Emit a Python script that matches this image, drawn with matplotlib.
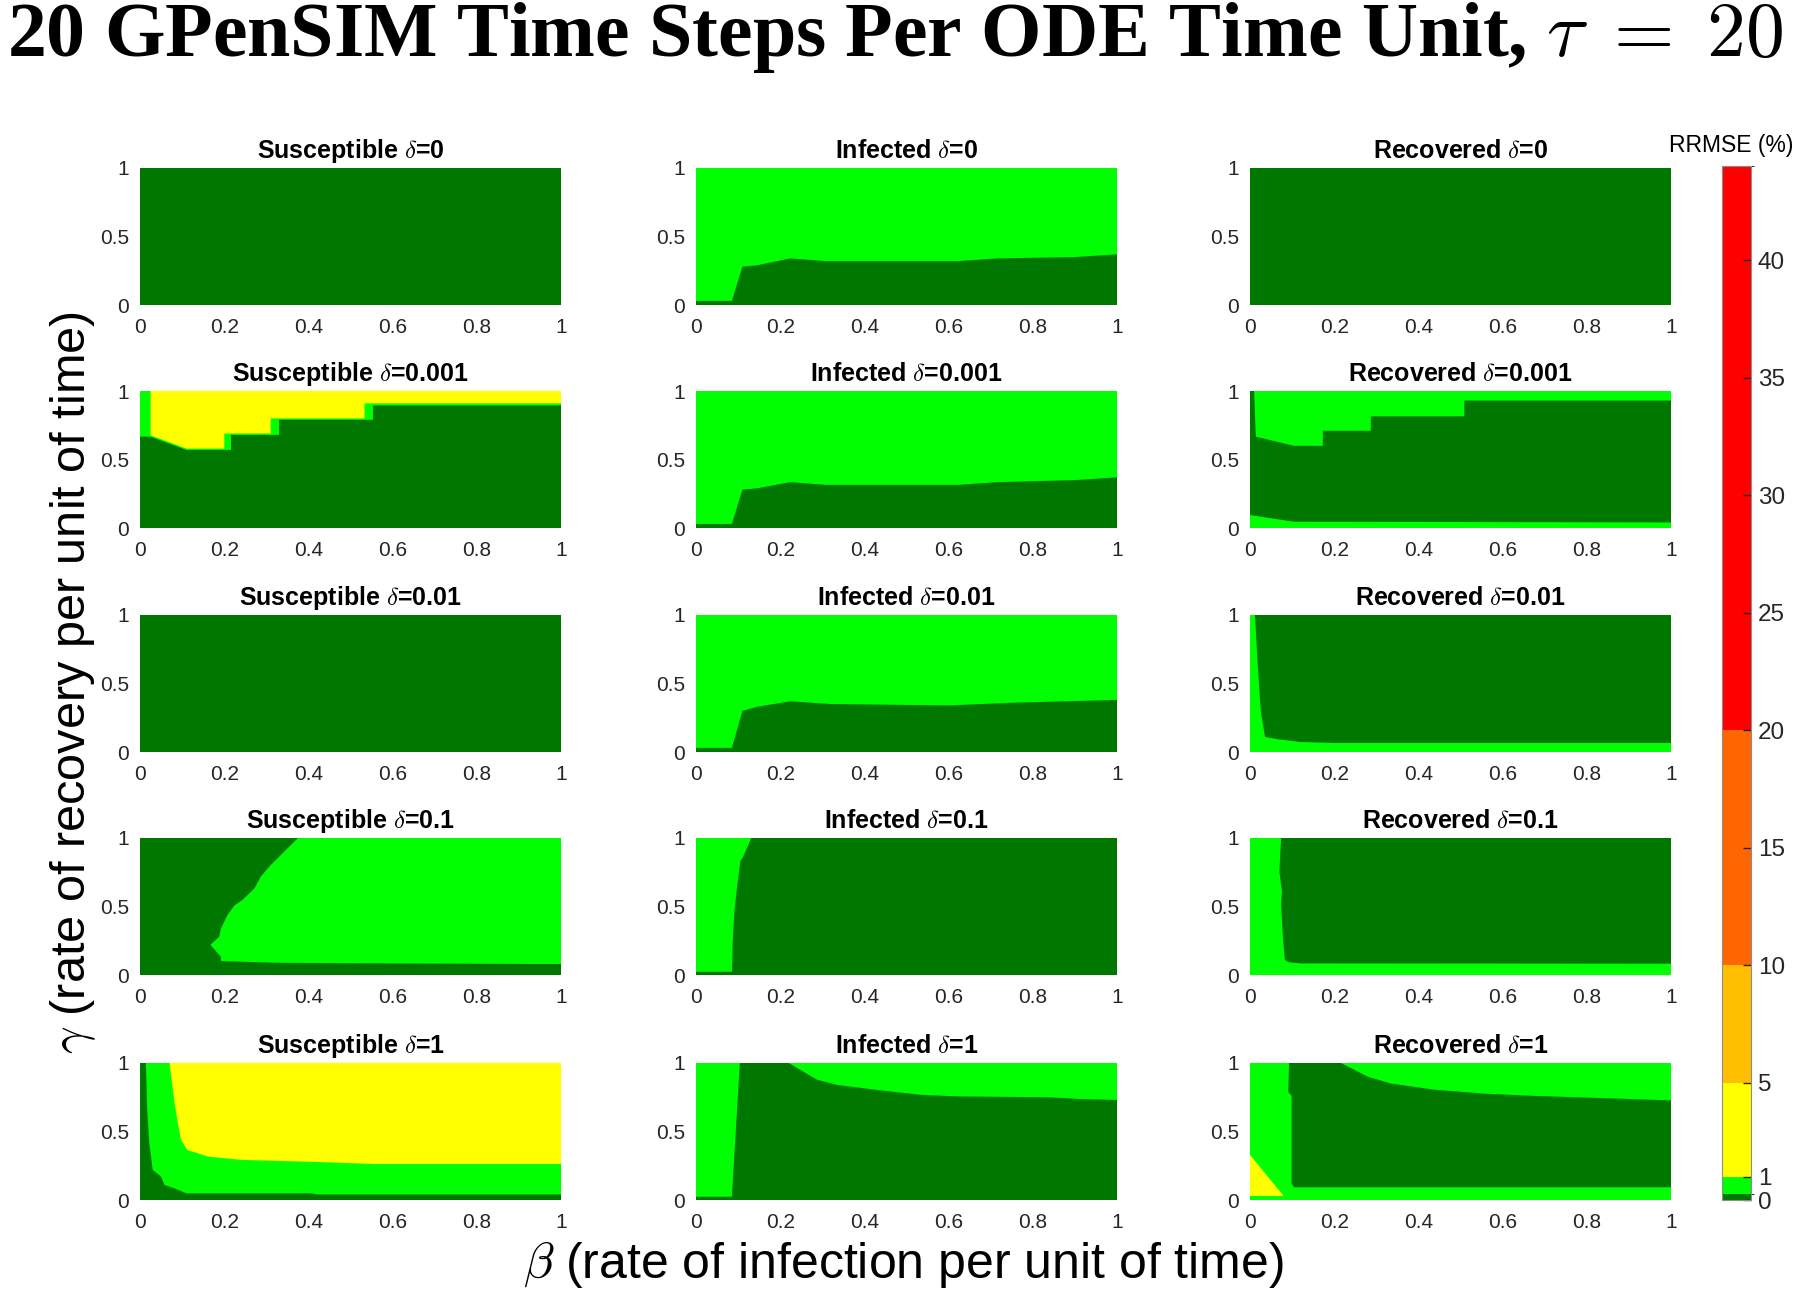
import matplotlib
matplotlib.use('Agg')
import matplotlib.pyplot as plt
from matplotlib.colors import ListedColormap, BoundaryNorm
from matplotlib.cm import ScalarMappable

plt.rcParams['font.family'] = ['Liberation Sans', 'DejaVu Sans']
plt.rcParams['mathtext.fontset'] = 'cm'

# ---------------- colour scale (RRMSE %) ----------------
rrmse_levels = [0, 0.25, 1, 5, 10, 20, 44]
band_colors = ['#007800', '#00ff00', '#ffff00', '#ffbf00', '#ff6600', '#ff0000']
cbar_ticks = [0, 1, 5, 10, 15, 20, 25, 30, 35, 40]

# representative RRMSE values of the bands that appear in the panels
DARK, LIGHT, YELLOW = 0.1, 0.6, 3.0

compartments = ['Susceptible', 'Infected', 'Recovered']
deltas = ['0', '0.001', '0.01', '0.1', '1']

beta_range = [0, 1]
gamma_range = [0, 1]
beta_ticks = [0, 0.2, 0.4, 0.6, 0.8, 1]
beta_ticklabels = ['0', '0.2', '0.4', '0.6', '0.8', '1']
gamma_ticks = [0, 0.5, 1]
gamma_ticklabels = ['0', '0.5', '1']

# ---------------- region boundaries (beta, gamma) ----------------
# delta = 0
inf_d0_beta = [0, 0.085, 0.11, 0.145, 0.224, 0.31, 0.62, 0.715, 0.9, 1.0, 1.0, 0]
inf_d0_gamma = [0.03, 0.03, 0.28, 0.29, 0.34, 0.32, 0.32, 0.34, 0.35, 0.37, 0, 0]

# delta = 0.001
sus_d001_light_beta = [0, 0.025, 0.025, 0.11, 0.2, 0.2, 0.31, 0.31, 0.533, 0.533, 1, 1, 0]
sus_d001_light_gamma = [1, 1, 0.677, 0.58, 0.58, 0.69, 0.69, 0.80, 0.80, 0.91, 0.91, 0, 0]
sus_d001_dark_beta = [0, 0.025, 0.11, 0.216, 0.216, 0.33, 0.33, 0.553, 0.553, 1, 1, 0]
sus_d001_dark_gamma = [0.667, 0.667, 0.57, 0.57, 0.68, 0.68, 0.79, 0.79, 0.895, 0.895, 0, 0]
inf_d001_beta = [0, 0.085, 0.11, 0.145, 0.224, 0.31, 0.62, 0.715, 0.9, 1.0, 1.0, 0]
inf_d001_gamma = [0.03, 0.03, 0.28, 0.29, 0.335, 0.315, 0.315, 0.335, 0.35, 0.37, 0, 0]
rec_d001_beta = [0, 0.01, 0.014, 0.105, 0.173, 0.173, 0.287, 0.287, 0.509, 0.509, 1, 1, 0.105, 0]
rec_d001_gamma = [1, 1, 0.667, 0.6, 0.6, 0.71, 0.71, 0.815, 0.815, 0.93, 0.93, 0.041, 0.046, 0.095]

# delta = 0.01
inf_d01_beta = [0, 0.085, 0.11, 0.145, 0.224, 0.32, 0.6, 0.755, 1, 1, 0]
inf_d01_gamma = [0.03, 0.03, 0.30, 0.33, 0.37, 0.35, 0.34, 0.36, 0.38, 0, 0]
rec_d01_beta = [0.012, 1, 1, 0.2, 0.12, 0.066, 0.036, 0.026, 0.018]
rec_d01_gamma = [1, 1, 0.066, 0.066, 0.073, 0.093, 0.11, 0.29, 0.66]

# delta = 0.1
sus_d1_beta = [0.375, 1, 1, 0.588, 0.32, 0.192, 0.192, 0.167, 0.188, 0.192, 0.208,
               0.224, 0.244, 0.272, 0.287, 0.311, 0.331, 0.351]
sus_d1_gamma = [1, 1, 0.08, 0.085, 0.09, 0.102, 0.134, 0.22, 0.28, 0.34, 0.44,
                0.507, 0.55, 0.634, 0.72, 0.805, 0.866, 0.927]
inf_d1_beta = [0, 0.085, 0.086, 0.087, 0.091, 0.097, 0.105, 0.112, 0.121, 0.131, 0]
inf_d1_gamma = [0.024, 0.024, 0.1, 0.244, 0.46, 0.634, 0.83, 0.866, 0.927, 1, 1]
rec_d1_beta = [0.074, 1, 1, 0.121, 0.093, 0.083, 0.079, 0.074, 0.076, 0.07]
rec_d1_gamma = [1, 1, 0.083, 0.085, 0.093, 0.11, 0.244, 0.51, 0.61, 0.756]

# delta = 1
sus_1_light_beta = [0, 0.07, 0.074, 0.082, 0.09, 0.097, 0.112, 0.161, 0.24, 0.438, 0.557, 1, 1, 0]
sus_1_light_gamma = [1, 1, 0.9, 0.707, 0.56, 0.44, 0.366, 0.317, 0.293, 0.276, 0.263, 0.263, 0, 0]
sus_1_dark_beta = [0, 0.014, 0.017, 0.022, 0.03, 0.05, 0.058, 0.082, 0.11, 0.406, 0.42, 1, 1, 0]
sus_1_dark_gamma = [1, 1, 0.66, 0.415, 0.22, 0.17, 0.11, 0.085, 0.049, 0.049, 0.041, 0.041, 0, 0]
inf_1_beta = [0, 0.085, 0.104, 0.22, 0.287, 0.335, 0.438, 0.533, 0.62, 0.834, 0.913, 1, 1, 0]
inf_1_gamma = [0.024, 0.024, 1, 1, 0.878, 0.84, 0.8, 0.768, 0.756, 0.75, 0.737, 0.73, 0, 0]
rec_1_yellow_beta = [0, 0.08, 0]
rec_1_yellow_gamma = [0.33, 0.03, 0.03]
rec_1_dark_beta = [0.093, 0.216, 0.28, 0.335, 0.438, 0.557, 0.675, 0.834, 1, 1, 0.105, 0.099, 0.099, 0.091]
rec_1_dark_gamma = [1, 1, 0.9, 0.85, 0.805, 0.776, 0.76, 0.744, 0.727, 0.093, 0.093, 0.12, 0.76, 0.79]

# panel table: (background RRMSE band, [(band, beta, gamma), ...])
panels = {
    (0, 0): (DARK, []),
    (0, 1): (LIGHT, [(DARK, inf_d0_beta, inf_d0_gamma)]),
    (0, 2): (DARK, []),
    (1, 0): (YELLOW, [(LIGHT, sus_d001_light_beta, sus_d001_light_gamma),
                      (DARK, sus_d001_dark_beta, sus_d001_dark_gamma)]),
    (1, 1): (LIGHT, [(DARK, inf_d001_beta, inf_d001_gamma)]),
    (1, 2): (LIGHT, [(DARK, rec_d001_beta, rec_d001_gamma)]),
    (2, 0): (DARK, []),
    (2, 1): (LIGHT, [(DARK, inf_d01_beta, inf_d01_gamma)]),
    (2, 2): (LIGHT, [(DARK, rec_d01_beta, rec_d01_gamma)]),
    (3, 0): (DARK, [(LIGHT, sus_d1_beta, sus_d1_gamma)]),
    (3, 1): (DARK, [(LIGHT, inf_d1_beta, inf_d1_gamma)]),
    (3, 2): (LIGHT, [(DARK, rec_d1_beta, rec_d1_gamma)]),
    (4, 0): (YELLOW, [(LIGHT, sus_1_light_beta, sus_1_light_gamma),
                      (DARK, sus_1_dark_beta, sus_1_dark_gamma)]),
    (4, 1): (LIGHT, [(DARK, inf_1_beta, inf_1_gamma)]),
    (4, 2): (LIGHT, [(YELLOW, rec_1_yellow_beta, rec_1_yellow_gamma),
                     (DARK, rec_1_dark_beta, rec_1_dark_gamma)]),
}

cmap = ListedColormap(band_colors)
norm = BoundaryNorm(rrmse_levels, cmap.N)

fig = plt.figure(figsize=(18, 12.93), dpi=100)
col_left = [0.0778, 0.3867, 0.6944]
row_bottom = [0.7641, 0.5916, 0.4184, 0.2459, 0.0719]
pw, ph = 0.234, 0.106
tick_color = '#262626'

for (r, c), (bg, regions) in panels.items():
    ax = fig.add_axes([col_left[c], row_bottom[r], pw, ph])
    ax.fill([beta_range[0], beta_range[1], beta_range[1], beta_range[0]],
            [gamma_range[0], gamma_range[0], gamma_range[1], gamma_range[1]],
            color=cmap(norm(bg)), lw=0)
    for val, bx, gy in regions:
        ax.fill(bx, gy, color=cmap(norm(val)), lw=0)
    ax.set_xlim(beta_range)
    ax.set_ylim(gamma_range)
    ax.set_xticks(beta_ticks)
    ax.set_xticklabels(beta_ticklabels)
    ax.set_yticks(gamma_ticks)
    ax.set_yticklabels(gamma_ticklabels)
    ax.tick_params(length=0, labelsize=15, colors=tick_color)
    ax.tick_params(axis='x', pad=9)
    ax.tick_params(axis='y', pad=8)
    for s in ax.spines.values():
        s.set_visible(False)
    ax.set_title(f'{compartments[c]} $\\delta$={deltas[r]}', fontsize=18,
                 fontweight='bold', pad=7)

# colour bar
cax = fig.add_axes([0.9567, 0.0719, 0.016, 0.7997])
cb = fig.colorbar(ScalarMappable(norm=norm, cmap=cmap), cax=cax,
                  spacing='proportional', ticks=cbar_ticks)
cb.ax.set_yticklabels([str(t) for t in cbar_ticks])
cb.ax.tick_params(direction='in', length=6, width=1, labelsize=17.5,
                  colors=tick_color, pad=5)
cb.outline.set_edgecolor('#8c8c8c')
cb.outline.set_linewidth(0.8)
fig.text(0.9617, 0.8875, 'RRMSE (%)', fontsize=16.5, ha='center', va='center')

fig.text(0.0405, 0.472, r'$\gamma$ (rate of recovery per unit of time)',
         rotation=90, ha='center', va='center', fontsize=35)
fig.text(0.502, 0.022, r'$\beta$ (rate of infection per unit of time)',
         ha='center', va='center', fontsize=36)
fig.text(0.497, 0.957, r'20 GPenSIM Time Steps Per ODE Time Unit, $\tau\;=\;20$',
         ha='center', va='baseline', fontsize=56, fontweight='bold',
         family=['Liberation Serif', 'DejaVu Serif'])

fig.savefig('out.png', dpi=100)
